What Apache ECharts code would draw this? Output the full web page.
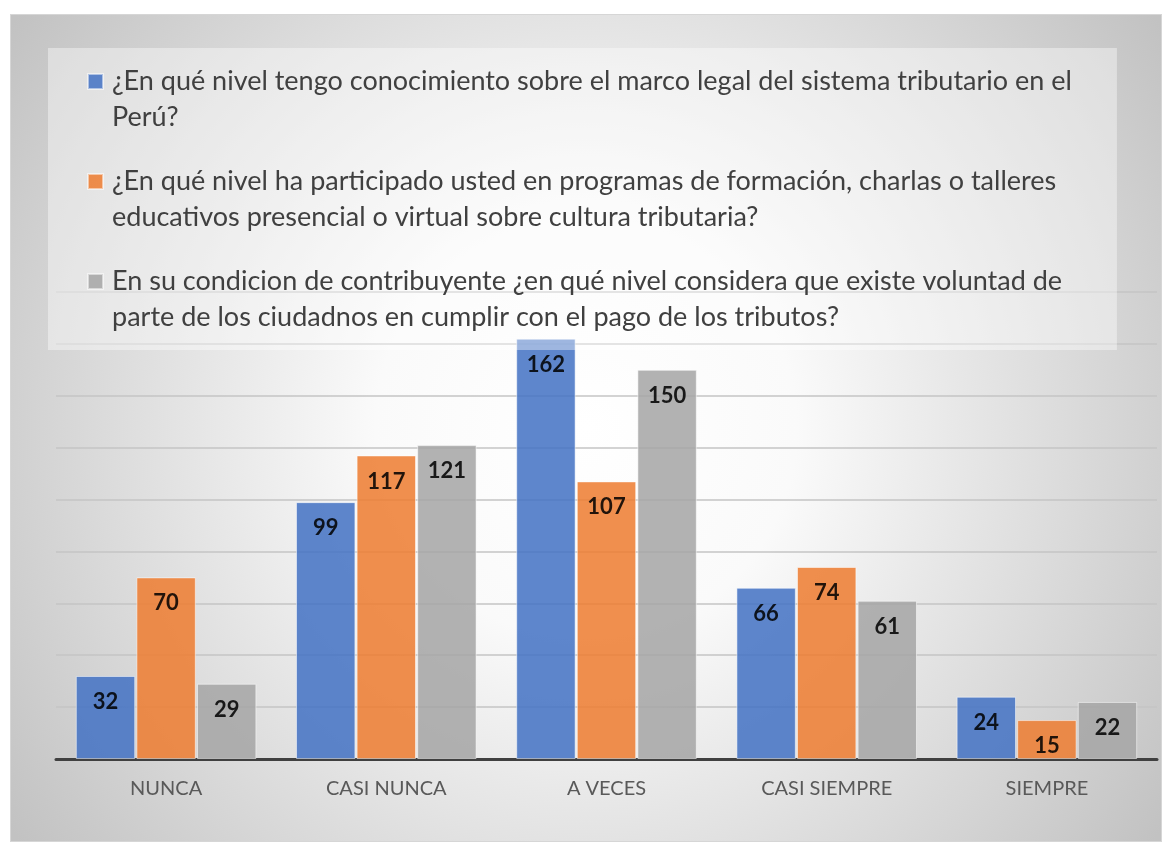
<!DOCTYPE html>
<html>
<head>
<meta charset="utf-8">
<script src="https://cdn.jsdelivr.net/npm/echarts@6/dist/echarts.min.js"></script>
<style>
  html, body { margin: 0; padding: 0; background: #ffffff; width: 1164px; height: 844px; overflow: hidden; }
  #chart { position: absolute; left: 10px; top: 14px; width: 1152px; height: 828px; box-sizing: border-box; border: 1px solid #d6d6d6; }
</style>
</head>
<body>
<div id="chart"></div>
<script>
const categories = ['NUNCA', 'CASI NUNCA', 'A VECES', 'CASI SIEMPRE', 'SIEMPRE'];

const seriesNames = [
  '¿En qué nivel tengo conocimiento sobre el marco legal del sistema tributario en el Perú?',
  '¿En qué nivel ha participado usted en programas de formación, charlas o talleres educativos presencial o virtual sobre cultura tributaria?',
  'En su condicion de contribuyente ¿en qué nivel considera que existe voluntad de parte de los ciudadnos en cumplir con el pago de los tributos?'
];

const legendLabels = [
  '¿En qué nivel tengo conocimiento sobre el marco legal del sistema tributario en el\nPerú?',
  '¿En qué nivel ha participado usted en programas de formación, charlas o talleres\neducativos presencial o virtual sobre cultura tributaria?',
  'En su condicion de contribuyente ¿en qué nivel considera que existe voluntad de\nparte de los ciudadnos en cumplir con el pago de los tributos?'
];

const conocimiento = [32, 99, 162, 66, 24];
const participacion = [70, 117, 107, 74, 15];
const voluntad = [29, 121, 150, 61, 22];

const colors = ['#4472C4', '#ED7D31', '#A5A5A5'];
const seriesData = [conocimiento, participacion, voluntad];

const chart = echarts.init(document.getElementById('chart'));

const legendIcon = 'path://M0,0L0,0M0,11h15v15h-15ZM19,72L19,72';

const option = {
  backgroundColor: {
    type: 'radial', x: 0.5, y: 0.5, r: 0.85,
    colorStops: [
      { offset: 0, color: '#ffffff' },
      { offset: 0.3, color: '#fafafa' },
      { offset: 1, color: '#c2c2c2' }
    ]
  },
  textStyle: { fontFamily: 'Lato' },
  legend: {
    orient: 'vertical',
    left: 37,
    top: 33,
    padding: [14, 45, 14, 39],
    itemGap: 26,
    itemWidth: 19,
    itemHeight: 72,
    icon: legendIcon,
    backgroundColor: 'rgba(255,255,255,0.4)',
    z: 10,
    selectedMode: false,
    formatter: function (name) { return legendLabels[seriesNames.indexOf(name)]; },
    textStyle: { fontFamily: 'Lato', fontSize: 27, lineHeight: 36, color: '#404040' }
  },
  grid: { left: 45, right: 4, top: 277, bottom: 82, containLabel: false },
  xAxis: {
    type: 'category',
    data: categories,
    axisLine: { show: true, lineStyle: { color: '#404040', width: 3 } },
    axisTick: { show: false },
    axisLabel: { fontFamily: 'Lato', fontSize: 20, color: '#595959', margin: 20 }
  },
  yAxis: {
    type: 'value',
    min: 0, max: 180, interval: 20,
    axisLabel: { show: false },
    axisLine: { show: false },
    axisTick: { show: false },
    splitLine: { lineStyle: { color: '#c4c4c4', width: 1.5 } }
  },
  series: seriesData.map(function (d, i) {
    return {
      name: seriesNames[i],
      type: 'bar',
      data: d,
      barGap: '2%',
      barCategoryGap: '18%',
      itemStyle: { color: colors[i], opacity: 0.86, borderColor: 'rgba(255,255,255,0.6)', borderWidth: 1 },
      label: {
        show: true,
        position: 'insideTop',
        distance: 15,
        fontFamily: 'Lato',
        fontSize: 22,
        fontWeight: 'bold',
        color: '#000000'
      }
    };
  })
};

chart.setOption(option);
</script>
</body>
</html>
